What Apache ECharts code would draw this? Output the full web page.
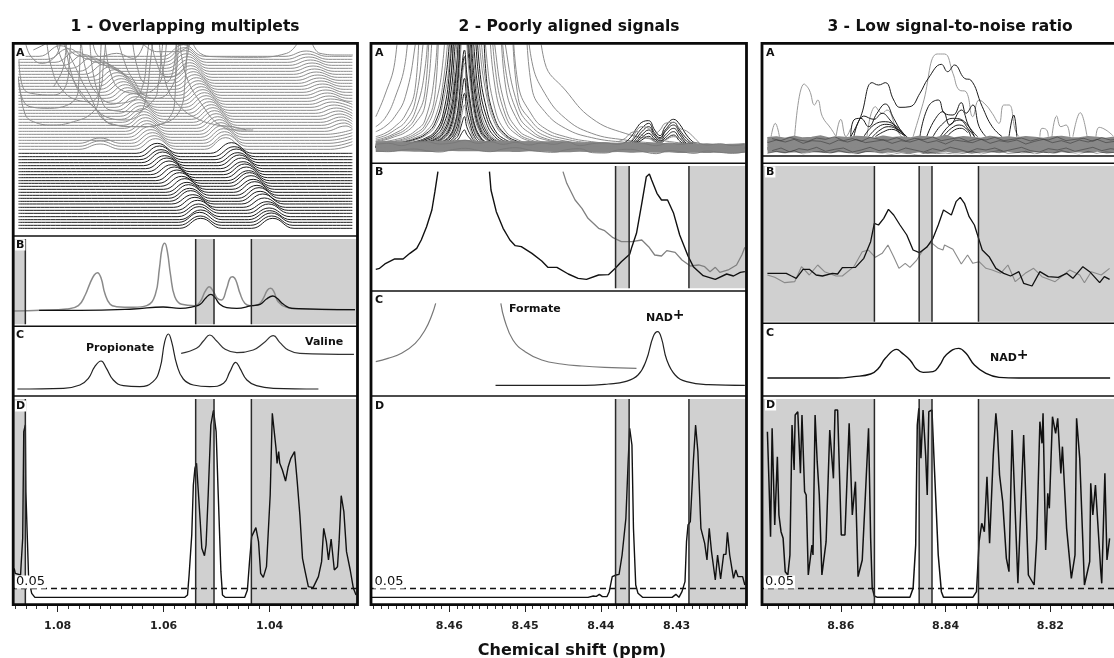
<!DOCTYPE html>
<html><head><meta charset="utf-8">
<style>html,body{margin:0;padding:0;background:#fff;overflow:hidden}#c{width:1114px;height:658px}</style>
<script src="https://cdn.jsdelivr.net/npm/echarts@6/dist/echarts.min.js"></script>
</head><body><div id="c"></div>
<script>
// ---------- tick labels / ticks (ppm) ----------
const major1=[1.08,1.06,1.04];
const major2=[8.46,8.45,8.44,8.43];
const major3=[8.86,8.84,8.82];
const minor1=[1.088,1.086,1.084,1.082,1.078,1.076,1.074,1.072,1.07,1.068,1.066,1.064,1.062,1.058,1.056,1.054,1.052,1.05,1.048,1.046,1.044,1.042,1.038,1.036,1.034,1.032,1.03,1.028,1.026,1.024];
const minor2=[8.47,8.469,8.468,8.467,8.466,8.465,8.464,8.463,8.462,8.461,8.459,8.458,8.457,8.456,8.455,8.454,8.453,8.452,8.451,8.449,8.448,8.447,8.446,8.445,8.444,8.443,8.442,8.441,8.439,8.438,8.437,8.436,8.435,8.434,8.433,8.432,8.431,8.429,8.428,8.427,8.426,8.425,8.424,8.423,8.422,8.421];
const minor3=[8.874,8.872,8.87,8.868,8.866,8.864,8.862,8.858,8.856,8.854,8.852,8.85,8.848,8.846,8.844,8.842,8.838,8.836,8.834,8.832,8.83,8.828,8.826,8.824,8.822,8.818,8.816,8.814,8.812,8.81,8.808];
// ---------- region boundaries (ppm) ----------
const bounds1=[1.0861,1.05396,1.0505,1.04345];
const bounds2=[8.43806,8.43627,8.42838];
const bounds3=[8.85358,8.84504,8.84259,8.83372];
const threshold=51;

// ---------- column 1 ----------
const a1Dark=[
[1.0874,15,1.0570,15,1.0530,45,1.0490,15,1.0434,15,1.0394,45,1.0354,15,1.0244,15],
[1.0874,24,1.0571,24,1.0531,52,1.0491,24,1.0436,24,1.0396,52,1.0356,24,1.0244,24],
[1.0874,33,1.0572,33,1.0532,63,1.0492,33,1.0437,33,1.0397,61,1.0357,33,1.0244,33],
[1.0874,41,1.0570,41,1.0530,70,1.0490,41,1.0440,41,1.0400,68,1.0360,41,1.0244,41],
[1.0874,50,1.0573,50,1.0533,80,1.0493,50,1.0441,50,1.0401,76,1.0361,50,1.0244,50],
[1.0874,60,1.0574,60,1.0534,88,1.0494,60,1.0442,60,1.0402,88,1.0362,60,1.0244,60],
[1.0874,69,1.0576,69,1.0536,99,1.0496,69,1.0445,69,1.0405,95,1.0365,69,1.0244,69],
[1.0874,78,1.0581,78,1.0541,108,1.0501,78,1.0450,78,1.0410,106,1.0370,78,1.0244,78],
[1.0874,88,1.0585,88,1.0545,116,1.0505,88,1.0453,88,1.0413,118,1.0373,88,1.0244,88],
[1.0874,96,1.0589,96,1.0549,128,1.0509,96,1.0458,96,1.0418,126,1.0378,96,1.0244,96],
[1.0874,105,1.0591,105,1.0551,135,1.0511,105,1.0460,105,1.0420,137,1.0380,105,1.0244,105],
[1.0874,114,1.0593,114,1.0553,146,1.0513,114,1.0464,114,1.0424,144,1.0384,114,1.0244,114],
[1.0874,123,1.0596,123,1.0556,153,1.0516,123,1.0468,123,1.0428,155,1.0388,123,1.0244,123],
[1.0874,132,1.0600,132,1.0560,164,1.0520,132,1.0471,132,1.0431,162,1.0391,132,1.0244,132],
[1.0874,141,1.0606,141,1.0566,171,1.0526,141,1.0475,141,1.0435,173,1.0395,141,1.0244,141],
[1.0874,150,1.0610,150,1.0570,182,1.0530,150,1.0478,150,1.0438,182,1.0398,150,1.0244,150],
[1.0874,158,1.0615,158,1.0575,190,1.0535,158,1.0480,158,1.0440,188,1.0400,158,1.0244,158],
[1.0874,167,1.0620,167,1.0580,199,1.0540,167,1.0484,167,1.0444,199,1.0404,167,1.0244,167],
[1.0874,176,1.0625,176,1.0585,206,1.0545,176,1.0487,176,1.0447,208,1.0407,176,1.0244,176],
[1.0874,185,1.0630,185,1.0590,217,1.0550,185,1.0490,185,1.0450,215,1.0410,185,1.0244,185],
[1.0874,194,1.0634,194,1.0594,226,1.0554,194,1.0493,194,1.0453,226,1.0413,194,1.0244,194],
[1.0874,203,1.0638,203,1.0598,233,1.0558,203,1.0497,203,1.0457,235,1.0417,203,1.0244,203],
[1.0874,212,1.0642,212,1.0602,244,1.0562,212,1.0500,212,1.0460,242,1.0420,212,1.0244,212],
[1.0874,221,1.0645,221,1.0605,251,1.0565,221,1.0503,221,1.0463,253,1.0423,221,1.0244,221],
[1.0874,230,1.0648,230,1.0608,262,1.0568,230,1.0507,230,1.0467,260,1.0427,230,1.0244,230],
[1.0874,240,1.0652,240,1.0612,270,1.0572,240,1.0512,240,1.0472,272,1.0432,240,1.0244,240]];
const a1Gray=[
[1.0874,252,1.0760,252,1.0720,268,1.0680,252,1.0655,252,1.0615,284,1.0575,252,1.0523,252,1.0483,287,1.0443,252,1.0285,252,1.0244,266],
[1.0874,261,1.0760,261,1.0720,277,1.0680,261,1.0658,261,1.0618,293,1.0578,261,1.0522,261,1.0482,296,1.0442,261,1.0286,261,1.0244,275],
[1.0874,270,1.0760,270,1.0720,286,1.0680,270,1.0661,270,1.0621,302,1.0581,270,1.0525,270,1.0485,305,1.0445,270,1.0288,270,1.0244,284],
[1.0874,279,1.0664,279,1.0624,311,1.0584,279,1.0527,279,1.0487,314,1.0447,279,1.0290,279,1.0244,293],
[1.0874,288,1.0667,288,1.0627,320,1.0587,288,1.0530,288,1.0490,323,1.0450,288,1.0292,288,1.0244,302],
[1.0874,297,1.0670,297,1.0630,329,1.0590,297,1.0532,297,1.0492,332,1.0452,297,1.0294,297,1.0244,311],
[1.0874,306,1.0672,306,1.0632,338,1.0592,306,1.0535,306,1.0495,341,1.0455,306,1.0296,306,1.0256,322,1.0244,314],
[1.0874,315,1.0674,315,1.0634,347,1.0594,315,1.0538,315,1.0498,350,1.0458,315,1.0299,315,1.0259,331,1.0244,320],
[1.0874,324,1.0676,324,1.0636,356,1.0596,324,1.0541,324,1.0501,359,1.0461,324,1.0302,324,1.0262,340,1.0244,328],
[1.0874,333,1.0678,333,1.0638,365,1.0598,333,1.0544,333,1.0504,368,1.0464,333,1.0304,333,1.0264,349,1.0244,336],
[1.0874,342,1.0680,342,1.0640,374,1.0600,342,1.0547,342,1.0507,377,1.0467,342,1.0307,342,1.0267,358,1.0244,344],
[1.0874,351,1.0682,351,1.0642,383,1.0602,351,1.0550,351,1.0510,386,1.0470,351,1.0310,351,1.0270,367,1.0244,352],
[1.0874,360,1.0685,360,1.0645,392,1.0605,360,1.0553,360,1.0513,395,1.0473,360,1.0314,360,1.0274,376,1.0244,360],
[1.0874,369,1.0688,369,1.0648,401,1.0608,369,1.0557,369,1.0517,404,1.0477,369,1.0318,369,1.0278,385,1.0244,369],
[1.0874,378,1.0692,378,1.0652,410,1.0612,378,1.0560,378,1.0520,413,1.0480,378,1.0322,378,1.0282,394,1.0244,378],
[1.0874,387,1.0697,387,1.0657,419,1.0617,387,1.0563,387,1.0523,422,1.0483,387,1.0325,387,1.0285,403,1.0244,387],
[1.0874,396,1.0704,396,1.0664,428,1.0624,396,1.0566,396,1.0526,431,1.0486,396,1.0328,396,1.0288,412,1.0248,396,1.0244,396],
[1.0874,405,1.0708,405,1.0668,437,1.0628,405,1.0569,405,1.0529,440,1.0489,405,1.0331,405,1.0291,421,1.0251,405,1.0244,405],
[1.0874,414,1.0712,414,1.0672,446,1.0632,414,1.0572,414,1.0532,449,1.0492,414,1.0334,414,1.0294,430,1.0254,414,1.0244,414],
[1.0874,423,1.0716,423,1.0676,455,1.0636,423,1.0575,423,1.0535,458,1.0495,423,1.0337,423,1.0297,439,1.0257,423,1.0244,423],
[1.0874,432,1.0720,432,1.0680,464,1.0640,432,1.0578,432,1.0538,467,1.0498,432,1.0340,432,1.0300,448,1.0260,432,1.0244,432],
[1.0874,441,1.0724,441,1.0684,473,1.0644,441,1.0581,441,1.0541,476,1.0501,441,1.0343,441,1.0303,457,1.0263,441,1.0244,441],
[1.0874,450,1.0728,450,1.0688,482,1.0648,450,1.0584,450,1.0544,485,1.0504,450,1.0346,450,1.0306,466,1.0266,450,1.0244,450],
[1.0874,459,1.0732,459,1.0692,491,1.0652,459,1.0587,459,1.0547,494,1.0507,459,1.0349,459,1.0309,475,1.0269,459,1.0244,459],
[1.0874,468,1.0740,468,1.0700,500,1.0660,468,1.0589,468,1.0549,503,1.0509,468,1.0352,468,1.0312,484,1.0272,468,1.0244,468],
[1.0874,477,1.0750,477,1.0710,509,1.0670,477,1.0591,477,1.0551,512,1.0511,477,1.0355,477,1.0315,493,1.0275,477,1.0244,477],
[1.0874,486,1.0760,486,1.0720,518,1.0680,486,1.0593,486,1.0553,521,1.0513,486,1.0358,486,1.0318,502,1.0278,486,1.0244,486],
[1.0874,495,1.0775,495,1.0735,527,1.0695,495,1.0595,495,1.0555,530,1.0515,495,1.0360,495,1.0320,511,1.0280,495,1.0244,495],
[1.0874,504,1.0790,504,1.0750,536,1.0710,504,1.0597,504,1.0557,539,1.0517,504,1.0363,504,1.0323,520,1.0283,504,1.0244,504],
[1.0874,513,1.0805,513,1.0765,545,1.0725,513,1.0599,513,1.0559,548,1.0519,513,1.0366,513,1.0326,529,1.0286,513,1.0244,513],
[1.0874,522,1.0820,522,1.0780,554,1.0740,522,1.0601,522,1.0561,557,1.0521,522,1.0369,522,1.0329,538,1.0289,522,1.0244,522],
[1.0874,531,1.0835,531,1.0795,563,1.0755,531,1.0603,531,1.0563,566,1.0523,531,1.0371,531,1.0331,547,1.0291,531,1.0244,531]];
const a1Tall=[
[1.0872,450,1.0862,360,1.0846,335,1.0808,325,1.0770,335,1.0736,360,1.0723,400,1.0720,500,1.0717,600],
[1.0874,470,1.0870,420,1.0852,380,1.0815,375,1.0764,410,1.0760,460,1.0758,520,1.0756,600],
[1.0802,570,1.0792,520,1.0774,470,1.0752,415,1.0726,370,1.0695,325,1.0645,320,1.0610,325,1.0588,350,1.0579,400,1.0577,500,1.0575,600],
[1.0739,570,1.0733,480,1.0720,410,1.0701,370,1.0657,365,1.0619,400,1.0610,450,1.0605,520,1.0600,600],
[1.0689,600,1.0673,510,1.0657,460,1.0632,410,1.0613,405,1.0588,430,1.0575,500,1.0572,600],
[1.0789,570,1.0767,500,1.0745,430,1.0701,330,1.0645,320,1.0600,330,1.0569,370,1.0560,450,1.0555,600],
[1.0569,570,1.0557,470,1.0525,380,1.0494,325,1.0456,310,1.0431,310],
[1.0544,567,1.0531,540,1.0506,530,1.0431,528,1.0368,540,1.0349,567],
[1.0319,567,1.0305,540,1.0267,535,1.0243,535],
[1.0733,567,1.0720,530,1.0689,540,1.0657,525,1.0638,567],
[1.0638,567,1.0613,545,1.0575,545,1.0550,567],
[1.0846,550,1.0824,567],
[1.0808,440,1.0789,500,1.0783,600],
[1.0820,567,1.0812,500,1.0796,440,1.0764,400,1.0739,395,1.0720,430,1.0714,500,1.0708,600],
[1.0785,567,1.0776,490,1.0758,420,1.0736,385,1.0701,345,1.0673,340,1.0645,360,1.0632,420,1.0626,500,1.0619,600],
[1.0755,567,1.0745,480,1.0726,420,1.0695,390,1.0657,400,1.0640,440,1.0632,520,1.0626,600],
[1.0710,567,1.0700,480,1.0680,430,1.0645,420,1.0613,440,1.0600,500,1.0594,600],
[1.0660,600,1.0650,500,1.0632,450,1.0600,450,1.0582,490,1.0576,600],
[1.0625,600,1.0615,520,1.0594,470,1.0569,480,1.0557,520,1.0550,600],
[1.0608,570,1.0594,440,1.0569,380,1.0538,345,1.0500,325,1.0470,320,1.0444,310],
[1.0873,520,1.0866,440,1.0850,420,1.0808,415,1.0783,450,1.0778,520,1.0774,600],
[1.0860,567,1.0850,530,1.0830,510,1.0805,530,1.0795,567]];
const b1Gray=[1.0882,40,1.0833,42,1.0783,46,1.0761,56,1.0748,88,1.0739,123,1.0731,148,1.0725,155,1.0718,138,1.0711,93,1.0701,60,1.0689,53,1.0657,51,1.0632,56,1.0616,88,1.0608,168,1.0603,228,1.0598,243,1.0593,218,1.0587,148,1.0579,83,1.0566,60,1.0541,56,1.0531,68,1.0522,98,1.0514,113,1.0506,98,1.0499,78,1.0491,73,1.0481,108,1.0475,138,1.0470,143,1.0464,133,1.0456,93,1.0447,63,1.0437,56,1.0421,60,1.0412,78,1.0404,103,1.0398,108,1.0392,98,1.0384,68,1.0368,51,1.0343,46,1.0239,44];
const b1Black=[1.0835,42,1.0758,42,1.0657,46,1.0601,52,1.0569,48,1.0541,54,1.0531,60,1.0520,80,1.0511,90,1.0503,80,1.0494,60,1.0481,50,1.0462,48,1.0434,56,1.0418,60,1.0406,76,1.0394,85,1.0386,78,1.0374,60,1.0358,48,1.0239,44];
const c1Propionate=[1.0876,21,1.0789,23,1.0758,33,1.0742,53,1.0730,88,1.0718,105,1.0708,83,1.0695,48,1.0676,31,1.0645,28,1.0620,43,1.0607,83,1.0598,163,1.0591,186,1.0585,163,1.0575,93,1.0563,51,1.0544,33,1.0513,28,1.0487,38,1.0475,73,1.0464,101,1.0456,83,1.0443,48,1.0425,31,1.0393,23,1.0308,21];
const c1Valine=[1.0567,128,1.0538,143,1.0525,165,1.0513,183,1.0500,165,1.0484,140,1.0462,130,1.0431,138,1.0412,158,1.0393,181,1.0381,161,1.0365,138,1.0343,128,1.0241,125];
const d1=[1.0882,110,1.0880,95,1.0877,90,1.0870,90,1.0869,120,1.0866,200,1.0864,520,1.0861,540,1.0860,340,1.0857,190,1.0855,90,1.0851,50,1.0849,35,1.0843,23,1.0560,23,1.0555,30,1.0552,90,1.0547,210,1.0544,360,1.0541,410,1.0538,425,1.0535,350,1.0531,250,1.0528,170,1.0523,148,1.0520,180,1.0516,330,1.0511,540,1.0506,585,1.0503,590,1.0501,520,1.0497,330,1.0492,100,1.0489,30,1.0484,23,1.0447,23,1.0442,45,1.0438,130,1.0434,205,1.0426,232,1.0421,190,1.0417,95,1.0412,83,1.0406,115,1.0399,330,1.0395,575,1.0392,570,1.0388,470,1.0386,425,1.0383,460,1.0381,425,1.0376,405,1.0370,372,1.0365,415,1.0360,440,1.0353,460,1.0348,370,1.0343,270,1.0338,140,1.0333,100,1.0327,55,1.0318,52,1.0308,85,1.0302,130,1.0298,230,1.0293,190,1.0289,135,1.0284,198,1.0278,105,1.0272,115,1.0269,190,1.0265,328,1.0260,280,1.0255,160,1.0248,105,1.0242,50,1.0237,30];

// ---------- column 2 ----------
const a2Ppm=[8.4697,8.4685,8.4672,8.4658,8.4645,8.4632,8.4619,8.4608,8.4599,8.4593,8.4588,8.4584,8.4580,8.4577,8.4572,8.4567,8.4560,8.4551,8.4540,8.4526,8.4509,8.4491,8.4474,8.4447,8.4412,8.4368,8.4324,8.4271,8.4210];
const a2Wide=[
[135,200,297,600,600,600,600,600,600,600,600,600,600,600,600,600,600,600,600,600,600,600,297,215,130,85,65,52,46],
[105,130,190,300,600,600,600,600,600,600,600,600,600,600,600,600,600,600,600,600,600,300,205,130,85,65,55,48,44],
[90,105,135,195,350,600,600,600,600,600,600,600,600,600,600,600,600,600,600,600,600,220,150,100,72,58,50,46,44],
[75,85,105,140,220,600,600,600,600,600,600,600,600,600,600,600,600,600,600,600,230,140,100,75,60,52,48,45,43],
[70,78,95,120,180,400,600,600,600,600,600,600,600,600,600,600,600,600,600,600,190,120,88,68,56,50,46,44,43],
[65,72,85,105,150,280,600,600,600,600,600,600,600,600,600,600,600,600,600,350,165,105,78,62,53,48,45,44,43],
[62,68,80,96,130,210,600,600,600,600,600,600,600,600,600,600,600,600,600,280,140,92,70,58,50,46,44,43,42],
[60,65,75,88,115,170,450,600,600,600,600,600,600,600,600,600,600,600,600,230,120,82,66,55,49,46,44,43,42],
[55,60,66,75,92,125,270,600,600,600,600,600,600,600,600,600,600,600,350,165,95,70,58,50,46,44,43,43,42],
[53,57,62,70,84,110,200,600,600,600,600,600,600,600,600,600,600,600,290,140,85,64,54,48,45,44,43,43,42],
[52,55,60,66,78,100,165,310,600,600,600,600,600,600,600,600,600,500,230,120,78,60,52,47,45,44,43,43,42],
[50,52,56,62,72,88,130,240,450,600,600,600,600,600,600,600,600,320,160,92,65,54,49,46,44,43,43,42,42],
[48,50,53,58,65,78,105,180,320,600,600,600,600,600,600,600,350,200,115,75,57,50,47,45,44,43,43,42,42]];
const a2Narrow=[
[49,51,54,60,68,82,115,205,380,600,600,600,600,600,600,600,600,250,130,82,60,51,47,45,44,43,43,42,42],
[47,48,51,54,60,70,90,145,290,520,600,600,600,600,600,520,280,160,95,66,53,48,46,44,43,43,42,42,42],
[47,48,50,53,58,68,85,130,240,430,600,600,600,600,600,600,420,225,125,78,56,50,46,44,44,43,42,42,42],
[46,48,50,52,57,66,82,125,230,420,600,600,600,600,600,430,230,135,85,60,51,47,45,44,43,43,42,42,42],
[46,47,49,51,55,62,76,108,190,330,500,600,600,600,500,330,190,115,75,56,49,46,45,44,43,43,42,42,42],
[46,47,48,50,54,60,72,98,165,270,440,600,600,600,450,290,165,100,68,54,48,46,44,44,43,43,42,42,42],
[45,46,48,50,53,58,68,90,145,235,350,560,600,600,400,250,145,90,64,52,47,45,44,43,43,42,42,42,42],
[45,46,47,49,52,57,65,84,130,210,370,600,600,560,350,215,128,82,60,50,46,45,44,43,43,42,42,42,41],
[45,45,47,48,51,55,62,78,115,185,330,500,600,500,320,190,115,76,58,49,46,44,44,43,42,42,42,41,41],
[44,45,46,48,50,54,60,74,105,165,280,480,600,450,280,170,105,72,56,48,45,44,43,43,42,42,41,41,41],
[44,45,46,47,50,53,58,70,98,150,250,440,600,400,250,155,96,68,54,47,45,44,43,42,42,42,41,41,41],
[44,45,46,47,49,52,57,67,90,135,220,370,520,360,225,140,90,65,52,46,45,44,43,42,42,42,41,41,41],
[44,44,45,46,48,51,55,62,80,112,170,270,335,265,175,115,78,58,50,46,44,43,43,42,42,41,41,41,41],
[44,44,45,46,48,50,54,60,76,104,155,250,315,245,160,108,74,56,49,45,44,43,42,42,41,41,41,41,41],
[44,44,45,46,47,50,53,58,72,98,145,230,295,225,150,100,70,54,48,45,44,43,42,42,41,41,41,41,40],
[44,44,45,45,47,49,52,56,68,88,125,195,250,190,130,88,64,52,47,45,44,43,42,42,41,41,40,40,40],
[44,44,44,45,46,48,50,54,62,78,105,160,205,155,108,76,58,50,46,44,43,43,42,41,41,41,40,40,40],
[43,44,44,45,46,47,50,53,60,72,92,135,170,130,94,68,54,48,45,44,43,42,42,41,41,40,40,40,40],
[43,44,44,45,45,47,49,52,57,66,80,110,135,105,80,62,51,47,44,43,43,42,41,41,40,40,40,40,40],
[43,43,44,44,45,46,48,50,54,60,68,84,95,82,68,56,49,45,44,43,42,42,41,41,40,40,40,40,40]];
const a2NadPpm=[8.4377,8.4368,8.4359,8.4353,8.4346,8.4337,8.4329,8.4322,8.4315,8.4304,8.4296,8.4287,8.4276,8.4267];
const a2Nad=[
[48,58,78,100,118,123,95,78,105,127,112,80,55,45],
[45,50,62,80,100,115,85,72,95,118,95,70,50,45],
[45,48,55,70,90,105,80,68,90,110,88,62,48,44],
[44,46,52,62,80,95,75,62,80,100,80,55,46,44],
[44,45,50,58,72,85,68,58,72,90,70,52,45,43],
[44,45,48,54,65,76,62,55,66,80,62,49,45,43],
[60,70,88,90,80,72,60,58,65,75,70,62,55,50],
[44,50,65,92,105,100,85,95,115,118,100,92,70,48]];
const a2BandPpm=[8.4697,8.4680,8.4663,8.4646,8.4630,8.4613,8.4596,8.4579,8.4562,8.4546,8.4529,8.4512,8.4495,8.4478,8.4462,8.4445,8.4428,8.4411,8.4394,8.4378,8.4361,8.4344,8.4327,8.4310,8.4294,8.4277,8.4260,8.4243,8.4226,8.4210];
const a2Band=[
[55,56,55,54,56,57,58,60,57,56,58,55,56,55,56,54,52,53,52,51,52,50,51,49,50,48,49,47,48,50],
[48,49,48,49,48,50,50,52,50,49,50,48,50,48,48,47,47,45,46,46,44,46,44,45,43,44,42,44,43,44],
[42,42,43,41,42,43,44,44,43,42,42,43,41,42,41,41,40,41,39,40,40,39,38,39,38,37,38,37,38,37],
[35,36,37,36,35,36,38,37,37,36,36,35,37,36,35,34,36,34,33,35,33,34,33,34,32,33,32,33,31,33]];
const a2Noise=[
[32,30,35,38,33,29,36,40,34,30,38,42,35,30,28,36,39,27,26,35,37,30,24,33,30,25,32,28,25,30],
[52,55,48,58,60,53,56,64,55,60,52,58,50,56,52,60,48,54,56,52,60,55,48,56,52,58,50,54,48,52]];
const b2BlackL=[8.4697,57,8.4692,60,8.4685,73,8.4672,88,8.4661,88,8.4652,105,8.4643,120,8.4637,145,8.4630,185,8.4623,235,8.4619,290,8.4615,350];
const b2BlackR=[8.4547,350,8.4545,295,8.4538,230,8.4529,180,8.4520,145,8.4513,128,8.4505,125,8.4491,105,8.4478,82,8.4470,63,8.4458,63,8.4443,43,8.4430,30,8.4419,27,8.4403,40,8.4390,41,8.4381,60,8.4373,80,8.4362,102,8.4359,125,8.4353,165,8.4346,255,8.4340,335,8.4336,343,8.4333,325,8.4326,285,8.4320,265,8.4312,265,8.4304,225,8.4296,160,8.4285,97,8.4278,65,8.4265,38,8.4249,27,8.4234,43,8.4225,37,8.4216,48,8.4210,50];
const b2Gray=[8.4450,350,8.4445,315,8.4434,265,8.4425,240,8.4417,210,8.4403,180,8.4395,173,8.4384,152,8.4373,140,8.4359,140,8.4346,145,8.4337,125,8.4329,100,8.4320,97,8.4313,113,8.4302,108,8.4293,85,8.4282,67,8.4271,70,8.4263,65,8.4256,50,8.4249,63,8.4243,48,8.4232,55,8.4221,70,8.4214,100,8.4210,123];
const c2FormateL=[8.4697,103,8.4681,113,8.4663,128,8.4645,158,8.4632,198,8.4623,243,8.4618,278];
const c2FormateR=[8.4532,278,8.4527,228,8.4516,168,8.4500,133,8.4478,108,8.4452,96,8.4425,90,8.4395,86,8.4353,83];
const c2Nad=[8.4539,32,8.4421,32,8.4390,36,8.4368,43,8.4351,63,8.4340,108,8.4331,178,8.4325,193,8.4320,173,8.4313,108,8.4302,63,8.4287,43,8.4258,34,8.4210,32];
const d2=[8.4702,23,8.4417,23,8.4410,27,8.4406,26,8.4402,32,8.4398,25,8.4392,25,8.4389,40,8.4385,85,8.4380,90,8.4376,92,8.4372,150,8.4367,260,8.4364,430,8.4362,530,8.4359,480,8.4357,230,8.4354,60,8.4351,35,8.4345,23,8.4306,23,8.4301,32,8.4297,23,8.4293,40,8.4289,70,8.4287,190,8.4285,240,8.4282,250,8.4278,430,8.4275,540,8.4272,460,8.4268,230,8.4263,185,8.4260,135,8.4257,230,8.4254,160,8.4249,75,8.4246,150,8.4242,78,8.4238,152,8.4235,152,8.4233,218,8.4230,150,8.4225,80,8.4222,105,8.4219,85,8.4213,85,8.4210,60];

// ---------- column 3 ----------
const a3PpmA=[8.8740,8.8723,8.8706,8.8689,8.8672,8.8655,8.8638,8.8621,8.8604,8.8587,8.8570,8.8553,8.8536,8.8519,8.8502,8.8485,8.8468,8.8451,8.8434,8.8417,8.8400,8.8383,8.8366,8.8349,8.8332,8.8315,8.8298,8.8281,8.8264,8.8247,8.8230,8.8213,8.8196,8.8179,8.8162,8.8145,8.8128,8.8111,8.8094,8.8077];
const a3PpmB=[8.8731,8.8714,8.8697,8.8680,8.8663,8.8646,8.8629,8.8612,8.8595,8.8578,8.8561,8.8544,8.8527,8.8510,8.8493,8.8476,8.8459,8.8442,8.8425,8.8408,8.8391,8.8374,8.8357,8.8340,8.8323,8.8306,8.8289,8.8272,8.8255,8.8238,8.8221,8.8204,8.8187,8.8170,8.8153,8.8136,8.8119,8.8102,8.8085,8.8068];
const a3Band=[
[48,50,46,52,47,49,53,46,50,48,52,50,46,53,48,50,47,52,50,48,54,47,51,49,46,52,48,50,47,51,49,46,50,52,48,47,51,49,46,50],
[38,40,36,41,37,39,35,41,38,36,42,37,40,38,35,41,39,37,42,36,40,38,35,41,37,39,42,36,38,40,35,41,37,39,36,42,38,40,37,39],
[28,26,31,27,30,25,29,32,27,30,26,31,28,25,30,28,32,26,29,27,31,25,30,28,26,32,27,29,31,25,28,30,26,29,32,27,30,25,28,31],
[18,21,16,20,17,22,19,16,21,18,15,20,22,17,19,21,16,20,15,18,22,17,20,16,19,21,17,22,18,16,20,19,15,21,17,20,18,22,16,19]];
const a3Noise=[
[52,46,56,48,44,54,50,58,46,52,44,56,50,47,55,45,53,49,57,46,51,55,44,52,48,56,46,50,54,45,52,48,57,46,50,53,44,55,48,51],
[40,48,42,50,38,46,44,36,48,42,50,40,44,48,38,46,42,50,40,46,36,48,44,40,50,38,46,42,48,36,44,50,40,46,38,48,42,50,40,44],
[16,24,12,22,18,26,14,20,24,12,18,26,16,22,14,24,18,12,22,16,26,20,12,22,18,24,14,20,26,16,12,22,18,24,14,20,26,16,22,18],
[8,14,10,16,6,12,14,8,16,10,6,14,12,8,5,10,6,3,12,7,9,5,8,14,6,12,16,8,10,14,6,12,8,16,10,6,14,8,12,10]];
const a3Speckle=[6,4,9,5,7,3,8,5,4,7,3,6,4,9,5,3,6,4,3,5,4,6,3,7,5,8,4,3,9,6,4,8,5,7,9,5,3,7,4,6];
const a3Dark=[
[8.8581,58,8.8562,118,8.8540,220,8.8528,213,8.8515,220,8.8499,168,8.8487,146,8.8468,148,8.8449,188,8.8433,233,8.8408,275,8.8396,253,8.8383,273,8.8364,233,8.8352,228,8.8330,148,8.8311,88,8.8292,58],
[8.8581,58,8.8575,108,8.8562,113,8.8547,88,8.8531,128,8.8515,156,8.8499,113,8.8484,73,8.8474,58],
[8.8575,58,8.8556,120,8.8537,110,8.8521,128,8.8506,108,8.8487,68],
[8.8556,58,8.8537,93,8.8515,103,8.8493,88,8.8477,60],
[8.8547,58,8.8528,88,8.8512,95,8.8493,83,8.8480,63],
[8.8540,56,8.8525,78,8.8509,88,8.8490,78,8.8474,58],
[8.8534,58,8.8518,73,8.8503,80,8.8487,70,8.8477,58],
[8.8449,58,8.8433,148,8.8414,168,8.8402,128,8.8386,123,8.8370,160,8.8361,128,8.8348,153,8.8336,88,8.8323,58],
[8.8436,58,8.8421,108,8.8405,133,8.8392,93,8.8370,138,8.8355,88,8.8339,58],
[8.8424,58,8.8408,93,8.8386,113,8.8364,103,8.8345,58],
[8.8411,56,8.8392,93,8.8374,108,8.8355,78,8.8345,58],
[8.8405,58,8.8389,83,8.8374,93,8.8358,78,8.8352,58],
[8.8399,56,8.8383,78,8.8370,83,8.8358,70],
[8.8279,58,8.8270,123,8.8264,58]];
const a3Gray=[
[8.8462,58,8.8443,158,8.8416,306,8.8402,306,8.8386,248,8.8374,198,8.8361,193,8.8348,118,8.8336,168,8.8323,153,8.8311,128,8.8298,98,8.8289,153,8.8279,153,8.8267,78,8.8260,58],
[8.8688,58,8.8670,216,8.8660,198,8.8650,153,8.8644,168,8.8635,118,8.8619,83,8.8609,58],
[8.8550,58,8.8534,148,8.8521,128,8.8512,138,8.8493,78,8.8484,58],
[8.8733,58,8.8725,98,8.8717,58],
[8.8609,58,8.8600,110,8.8590,58,8.8581,83],
[8.8220,58,8.8216,83,8.8207,78,8.8204,58],
[8.8197,58,8.8188,120,8.8180,88,8.8170,93,8.8163,58],
[8.8157,58,8.8143,130,8.8130,58],
[8.8113,58,8.8107,86,8.8094,78,8.8080,60]];
const b3Ppm=[8.8740,8.8704,8.8694,8.8685,8.8672,8.8660,8.8647,8.8635,8.8616,8.8606,8.8597,8.8572,8.8556,8.8543,8.8536,8.8528,8.8518,8.8509,8.8499,8.8487,8.8474,8.8462,8.8450,8.8436,8.8424,8.8414,8.8404,8.8389,8.8380,8.8372,8.8364,8.8355,8.8345,8.8337,8.8330,8.8317,8.8304,8.8289,8.8276,8.8260,8.8251,8.8235,8.8220,8.8204,8.8185,8.8169,8.8157,8.8138,8.8125,8.8106,8.8097,8.8087];
const b3Black=[145,145,137,130,157,157,140,137,145,143,162,163,190,240,295,290,310,337,320,290,260,215,207,223,250,290,335,320,360,373,355,315,290,250,215,195,160,145,137,150,115,107,150,135,133,145,130,165,150,117,135,127];
const b3GrayPpm=[8.8740,8.8726,8.8707,8.8688,8.8675,8.8660,8.8644,8.8631,8.8609,8.8597,8.8575,8.8559,8.8547,8.8534,8.8521,8.8510,8.8499,8.8489,8.8477,8.8468,8.8455,8.8443,8.8427,8.8414,8.8405,8.8402,8.8386,8.8370,8.8358,8.8348,8.8336,8.8323,8.8311,8.8295,8.8281,8.8267,8.8248,8.8232,8.8216,8.8191,8.8163,8.8144,8.8135,8.8122,8.8103,8.8087];
const b3Gray=[140,133,117,120,165,140,170,150,137,137,165,210,215,193,205,230,195,160,175,163,185,215,237,220,215,230,217,173,200,175,180,160,155,145,170,120,145,160,135,120,155,140,117,150,140,160];
const c3Ppm=[8.8740,8.8606,8.8575,8.8543,8.8528,8.8515,8.8493,8.8484,8.8468,8.8455,8.8443,8.8424,8.8411,8.8399,8.8375,8.8361,8.8345,8.8323,8.8298,8.8260,8.8086];
const c3Nad=[54,54,58,66,83,113,140,130,108,80,71,73,93,123,143,128,93,68,56,54,54];
const d3=[8.8740,520,8.8737,370,8.8734,205,8.8731,530,8.8728,530,8.8726,240,8.8721,445,8.8718,270,8.8714,220,8.8710,200,8.8706,100,8.8701,90,8.8697,150,8.8693,540,8.8689,405,8.8687,570,8.8682,580,8.8677,395,8.8674,570,8.8669,340,8.8666,330,8.8662,90,8.8655,180,8.8653,150,8.8649,570,8.8645,430,8.8641,330,8.8636,90,8.8628,190,8.8621,525,8.8614,380,8.8611,585,8.8606,585,8.8599,210,8.8592,210,8.8584,545,8.8578,270,8.8572,370,8.8567,85,8.8559,135,8.8553,330,8.8547,530,8.8543,200,8.8540,52,8.8536,27,8.8530,23,8.8468,23,8.8462,50,8.8457,180,8.8454,540,8.8451,590,8.8447,440,8.8443,585,8.8438,450,8.8435,330,8.8432,580,8.8426,585,8.8421,400,8.8414,150,8.8408,40,8.8404,23,8.8348,23,8.8341,40,8.8336,190,8.8331,245,8.8326,220,8.8321,385,8.8316,185,8.8309,450,8.8304,575,8.8301,520,8.8297,390,8.8291,310,8.8284,140,8.8279,100,8.8273,525,8.8270,530,8.8262,65,8.8251,510,8.8242,90,8.8231,60,8.8226,200,8.8220,550,8.8216,485,8.8214,575,8.8209,165,8.8205,335,8.8202,290,8.8196,565,8.8190,515,8.8186,560,8.8180,395,8.8177,475,8.8169,230,8.8160,80,8.8153,150,8.8150,560,8.8144,440,8.8135,60,8.8125,130,8.8123,365,8.8119,270,8.8114,360,8.8104,105,8.8102,65,8.8096,395,8.8092,135,8.8087,200];

// ---------- helpers ----------
const FONT='"DejaVu Sans"';
const pairs=f=>{const o=[];for(let i=0;i<f.length;i+=2)o.push([f[i],f[i+1]]);return o;};
const zip=(x,y)=>y.map((v,i)=>[x[i],v]);

const grids=[],xAxes=[],yAxes=[],series=[],graphics=[];
function panel(left,top,width,height,xMin,xMax,yMax){
  const g=grids.length;
  grids.push({left,top,width,height,containLabel:false});
  xAxes.push({gridIndex:g,type:'value',inverse:true,min:xMin,max:xMax,show:false});
  yAxes.push({gridIndex:g,type:'value',min:0,max:yMax,show:false});
  return {x:xAxes.length-1,y:g,yMax};
}
function axisTicks(p,major,minor){
  const base={gridIndex:p.y,type:'value',inverse:true,min:xAxes[p.x].min,max:xAxes[p.x].max,position:'bottom',axisLine:{show:false},splitLine:{show:false},minorTick:{show:false}};
  xAxes.push({...base,axisTick:{show:true,length:7,lineStyle:{color:'#222',width:1},customValues:major},
    axisLabel:{show:true,customValues:major,margin:16,color:'#222',fontFamily:FONT,fontWeight:'bold',fontSize:11,formatter:v=>v.toFixed(2)}});
  xAxes.push({...base,axisTick:{show:true,length:4,lineStyle:{color:'#333',width:1},customValues:minor},axisLabel:{show:false}});
}
function line(p,data,color,width,smooth,extra){
  series.push(Object.assign({type:'line',xAxisIndex:p.x,yAxisIndex:p.y,data,showSymbol:false,symbol:'none',silent:true,animation:false,
    clip:true,smooth:smooth?0.45:false,lineStyle:{color,width},z:3},extra||{}));
}
function regions(p,anchor,areas,lines){
  series.push({type:'line',xAxisIndex:p.x,yAxisIndex:p.y,data:anchor,showSymbol:false,symbol:'none',silent:true,animation:false,lineStyle:{width:0,opacity:0},z:1,
    markArea:{silent:true,z:1,itemStyle:{color:'#d0d0d0',borderWidth:0},label:{show:false},data:areas.map(a=>[{xAxis:a[0]},{xAxis:a[1]}])}});
  lines.forEach(v=>line(p,[[v,0],[v,p.yMax]],'#2a2a2a',1.5,false,{z:6}));
}
function thresholdLine(p,anchor){
  series.push({type:'line',xAxisIndex:p.x,yAxisIndex:p.y,data:anchor,showSymbol:false,symbol:'none',silent:true,animation:false,lineStyle:{width:0,opacity:0},z:6,
    markLine:{silent:true,symbol:'none',z:6,animation:false,label:{show:false},lineStyle:{color:'#111',width:1.4,type:[6,4]},data:[{yAxis:threshold}]}});
}
function txt(x,y,text,font,opt){
  graphics.push({type:'text',x,y,z:20,silent:true,style:Object.assign({text,font:font,fill:'#111',textVerticalAlign:'middle'},opt||{})});
}
function hline(x1,x2,y,w){
  graphics.push({type:'line',z:18,silent:true,shape:{x1,y1:y,x2,y2:y},style:{stroke:'#111',lineWidth:w}});
}
function frame(x,y,w,h){
  graphics.push({type:'rect',z:19,silent:true,shape:{x,y,width:w,height:h},style:{fill:'none',stroke:'#0a0a0a',lineWidth:2.8}});
}

// ---------- column 1 panels ----------
const c1={x0:1.02352,x1:1.08824};
let p=panel(14,44.33,343,189,c1.x0,c1.x1,567);
a1Gray.forEach(r=>line(p,pairs(r),'#8c8c8c',1,true));
a1Tall.forEach(r=>line(p,pairs(r),'#8c8c8c',1,true));
a1Dark.forEach(r=>line(p,pairs(r),'#1c1c1c',1,true));
p=panel(14,239,343,85.33,c1.x0,c1.x1,256);
regions(p,[[1.07,10]],[[bounds1[0],c1.x1],[bounds1[2],bounds1[1]],[c1.x0,bounds1[3]]],bounds1);
line(p,pairs(b1Gray),'#8a8a8a',1.5,true);
line(p,pairs(b1Black),'#111',1.3,true);
p=panel(14,327.67,343,68.33,c1.x0,c1.x1,205);
line(p,pairs(c1Propionate),'#222',1.2,true);
line(p,pairs(c1Valine),'#333',1.2,true);
p=panel(14,399,343,206,c1.x0,c1.x1,618);
regions(p,[[1.07,10]],[[bounds1[0],c1.x1],[bounds1[2],bounds1[1]],[c1.x0,bounds1[3]]],bounds1);
thresholdLine(p,[[1.07,10]]);
line(p,pairs(d1),'#111',1.4,false);
axisTicks(p,major1,minor1);

// ---------- column 2 panels ----------
const c2={x0:8.42085,x1:8.4702};
p=panel(372,45,374,116.67,c2.x0,c2.x1,350);
a2Wide.forEach(r=>line(p,zip(a2Ppm,r),'#8c8c8c',1,true));
a2Narrow.forEach((r,i)=>line(p,zip(a2Ppm,r),i%3===2?'#8c8c8c':'#1c1c1c',1,true));
a2Nad.forEach((r,i)=>line(p,zip(a2NadPpm,r),i>=6?'#8c8c8c':'#1c1c1c',1,true));
a2Band.forEach(r=>line(p,zip(a2BandPpm,r),'#868686',4,true));
a2Noise.forEach(r=>line(p,zip(a2BandPpm,r),'#777',0.9,true));
p=panel(372,166,374,122.33,c2.x0,c2.x1,367);
regions(p,[[8.45,10]],[[bounds2[1],bounds2[0]],[c2.x0,bounds2[2]]],bounds2);
line(p,pairs(b2Gray),'#808080',1.3,false);
line(p,pairs(b2BlackL),'#111',1.4,false);
line(p,pairs(b2BlackR),'#111',1.4,false);
p=panel(372,291.67,374,104.33,c2.x0,c2.x1,313);
line(p,pairs(c2FormateL),'#777',1.2,true);
line(p,pairs(c2FormateR),'#777',1.2,true);
line(p,pairs(c2Nad),'#222',1.2,true);
p=panel(372,399,374,206,c2.x0,c2.x1,618);
regions(p,[[8.45,10]],[[bounds2[1],bounds2[0]],[c2.x0,bounds2[2]]],bounds2);
thresholdLine(p,[[8.45,10]]);
line(p,pairs(d2),'#111',1.4,false);
axisTicks(p,major2,minor2);

// ---------- column 3 panels ----------
const c3={x0:8.80786,x1:8.87484};
p=panel(763,45,355,111,c3.x0,c3.x1,333);
a3Gray.forEach(r=>line(p,pairs(r),'#9a9a9a',1,true));
a3Dark.forEach(r=>line(p,pairs(r),'#1c1c1c',1,true));
a3Band.forEach(r=>line(p,zip(a3PpmA,r),'#888888',6,false));
a3Noise.forEach((r,i)=>line(p,zip(i%2?a3PpmA:a3PpmB,r),'#333',0.55,false));
line(p,zip(a3PpmB,a3Speckle),'#fff',0.9,false);
p=panel(763,166,355,155.67,c3.x0,c3.x1,467);
regions(p,[[8.85,10]],[[bounds3[0],c3.x1],[bounds3[2],bounds3[1]],[c3.x0,bounds3[3]]],bounds3);
line(p,zip(b3GrayPpm,b3Gray),'#8a8a8a',1.1,false);
line(p,zip(b3Ppm,b3Black),'#111',1.3,false);
p=panel(763,324,355,72,c3.x0,c3.x1,216);
line(p,zip(c3Ppm,c3Nad),'#111',1.4,true);
p=panel(763,399,355,206,c3.x0,c3.x1,618);
regions(p,[[8.85,10]],[[bounds3[0],c3.x1],[bounds3[2],bounds3[1]],[c3.x0,bounds3[3]]],bounds3);
thresholdLine(p,[[8.85,10]]);
line(p,pairs(d3),'#111',1.5,false);
axisTicks(p,major3,minor3);

// ---------- frames and separators ----------
frame(13.2,43.3,344.3,561.4);
frame(371,43.3,375.5,561.4);
frame(762,43.3,400,561.4);
[236,326.3,396].forEach(y=>hline(13,357,y,1.4));
[163.3,291,396].forEach(y=>hline(371,747,y,1.4));
[156,163.3,323.3,396].forEach(y=>hline(762,1120,y,1.4));

// ---------- panel letters ----------
const LB='bold 11px '+FONT;
const letterBox={backgroundColor:'#fff',padding:[0,1,0,1]};
[[15,53,'A'],[15,245,'B'],[15,335,'C'],[15,406,'D'],
 [374,53,'A'],[374,172,'B'],[374,300,'C'],[374,406,'D'],
 [765,53,'A'],[765,172,'B'],[765,333,'C'],[765,405,'D']].forEach(a=>txt(a[0],a[1],a[2],LB,letterBox));
[15,373.5,764].forEach(x=>txt(x,582,'0.05','13px '+FONT,{backgroundColor:'#fff',padding:[0,1,0,1]}));

// ---------- annotations ----------
txt(86,348.5,'Propionate',LB);
txt(305,342,'Valine',LB);
txt(509,309,'Formate',LB);
const nad={rich:{b:{font:LB,fill:'#111'},s:{font:'bold 14px '+FONT,fill:'#111',padding:[0,0,5,0]}}};
graphics.push({type:'text',x:646,y:318,z:20,silent:true,style:Object.assign({text:'{b|NAD}{s|+}',textVerticalAlign:'middle'},nad)});
graphics.push({type:'text',x:990,y:358,z:20,silent:true,style:Object.assign({text:'{b|NAD}{s|+}',textVerticalAlign:'middle'},nad)});

// ---------- titles ----------
const tFont={fontFamily:FONT,fontWeight:'bold',fontSize:15.5,color:'#111'};
const option={
  backgroundColor:'#fff',animation:false,
  title:[
    {text:'1 - Overlapping multiplets',left:180,top:14,textAlign:'center',textStyle:tFont},
    {text:'2 - Poorly aligned signals',left:564,top:14,textAlign:'center',textStyle:tFont},
    {text:'3 - Low signal-to-noise ratio',left:945,top:14,textAlign:'center',textStyle:tFont},
    {text:'Chemical shift (ppm)',left:567,top:638,textAlign:'center',textStyle:{fontFamily:FONT,fontWeight:'bold',fontSize:16,color:'#111'}}
  ],
  grid:grids,xAxis:xAxes,yAxis:yAxes,series,graphic:{elements:graphics}
};
echarts.init(document.getElementById('c'),null,{renderer:'canvas'}).setOption(option);
</script></body></html>
